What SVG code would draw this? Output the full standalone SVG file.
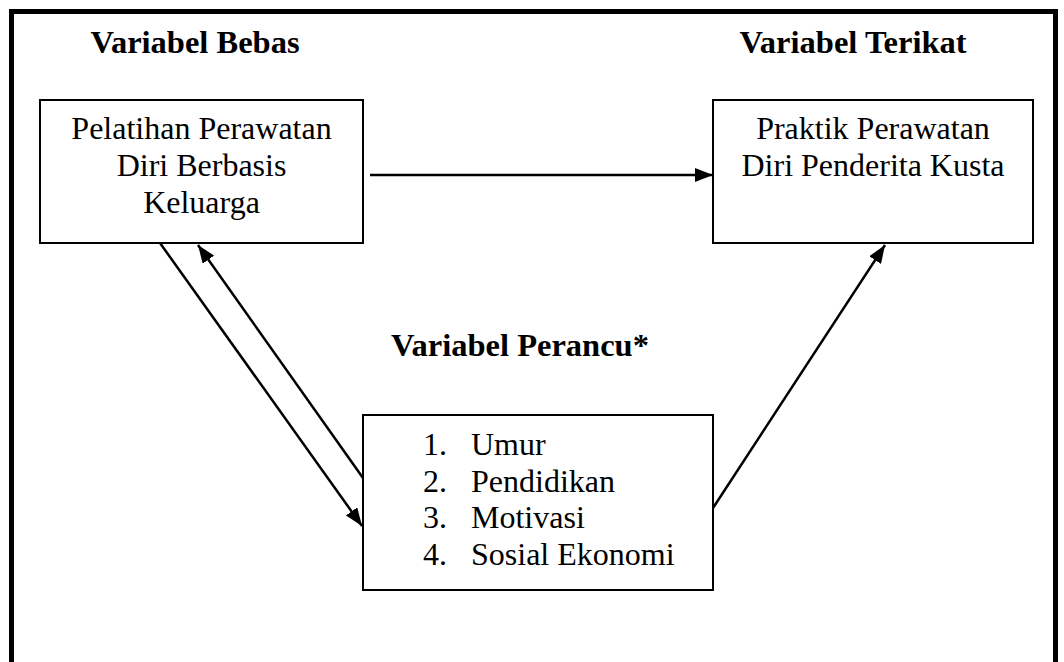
<svg xmlns="http://www.w3.org/2000/svg" width="1064" height="662" viewBox="0 0 1064 662">
<style>
.box{fill:#fff;stroke:#000;stroke-width:2}
.t{font-family:"Liberation Serif","Times New Roman",serif;font-size:32px;fill:#000}
.h{font-family:"Liberation Serif","Times New Roman",serif;font-size:32.5px;font-weight:bold;fill:#000}
.c{stroke:#000;stroke-width:2.5;fill:none;marker-end:url(#ah)}
</style>
<defs>
<marker id="ah" viewBox="0 0 18 14" refX="18" refY="7" markerWidth="18" markerHeight="14" markerUnits="userSpaceOnUse" orient="auto">
<path d="M0,0 L18,7 L0,14 Z" fill="#000"/>
</marker>
</defs>
<rect x="0" y="0" width="1064" height="662" fill="#fff"/>
<path d="M11.5,670 V11.5 H1055.5 V670" fill="none" stroke="#000" stroke-width="5"/>
<text class="h" x="195" y="53" text-anchor="middle">Variabel Bebas</text>
<text class="h" x="853" y="53" text-anchor="middle">Variabel Terikat</text>
<text class="h" x="520" y="356" text-anchor="middle">Variabel Perancu*</text>
<g id="connectors">
<line class="c" x1="370" y1="175" x2="713" y2="175"/>
<line class="c" x1="160" y1="243" x2="362" y2="526"/>
<line class="c" x1="363" y1="478" x2="198" y2="245"/>
<line class="c" x1="713" y1="508" x2="885" y2="245"/>
</g>
<g id="bebas">
<rect class="box" x="40" y="100" width="323" height="143"/>
<text class="t" x="201.5" y="139" text-anchor="middle">Pelatihan Perawatan</text>
<text class="t" x="201.5" y="176" text-anchor="middle">Diri Berbasis</text>
<text class="t" x="201.5" y="213" text-anchor="middle">Keluarga</text>
</g>
<g id="terikat">
<rect class="box" x="713" y="100" width="320" height="143"/>
<text class="t" x="873" y="139" text-anchor="middle">Praktik Perawatan</text>
<text class="t" x="873" y="176" text-anchor="middle">Diri Penderita Kusta</text>
</g>
<g id="perancu">
<rect class="box" x="363" y="415" width="350" height="175"/>
<text class="t" x="423" y="455">1.</text><text class="t" x="471" y="455">Umur</text>
<text class="t" x="423" y="492">2.</text><text class="t" x="471" y="492">Pendidikan</text>
<text class="t" x="423" y="528">3.</text><text class="t" x="471" y="528">Motivasi</text>
<text class="t" x="423" y="565">4.</text><text class="t" x="471" y="565">Sosial Ekonomi</text>
</g>
</svg>
